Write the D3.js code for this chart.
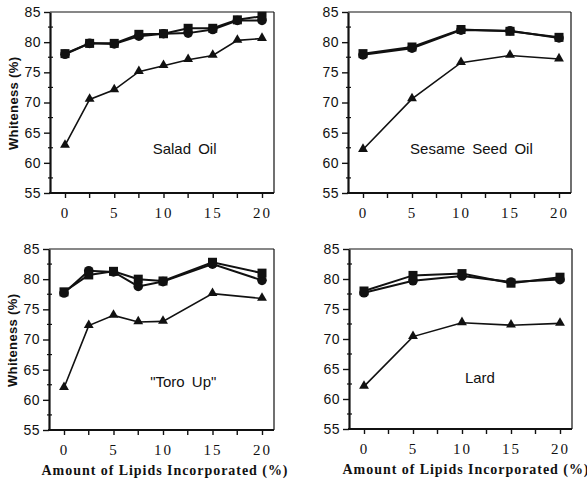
<!DOCTYPE html>
<html>
<head>
<meta charset="utf-8">
<script src="https://cdn.jsdelivr.net/npm/d3@7"></script>
<style>
  html, body { margin: 0; padding: 0; background: #fff; }
  svg { display: block; }
</style>
</head>
<body>
<svg id="chart" width="587" height="482"></svg>
<script>
// ---------- data ----------
const panelNames = ["Salad Oil", "Sesame Seed Oil", "\"Toro Up\"", "Lard"];

const saladX        = [0, 2.5, 5, 7.5, 10, 12.5, 15, 17.5, 20];
const saladSquare   = [78.1, 79.8, 79.8, 81.3, 81.4, 82.3, 82.3, 83.7, 84.3];
const saladCircle   = [78.0, 79.8, 79.7, 81.0, 81.4, 81.5, 82.1, 83.6, 83.6];
const saladTriangle = [62.9, 70.5, 72.1, 75.1, 76.1, 77.1, 77.8, 80.3, 80.6];

const sesameX        = [0, 5, 10, 15, 20];
const sesameSquare   = [78.1, 79.2, 82.1, 81.8, 80.8];
const sesameCircle   = [77.9, 79.0, 82.0, 81.9, 80.7];
const sesameTriangle = [62.2, 70.6, 76.6, 77.8, 77.2];

const toroX        = [0, 2.5, 5, 7.5, 10, 15, 20];
const toroSquare   = [77.9, 80.7, 81.3, 80.0, 79.7, 82.8, 81.0];
const toroCircle   = [77.7, 81.4, 81.2, 78.8, 79.6, 82.5, 79.8];
const toroTriangle = [62.0, 72.3, 74.0, 72.9, 73.0, 77.6, 76.8];

const lardX        = [0, 5, 10, 15, 20];
const lardSquare   = [78.0, 80.6, 80.9, 79.3, 80.3];
const lardCircle   = [77.7, 79.7, 80.5, 79.5, 79.9];
const lardTriangle = [62.1, 70.4, 72.7, 72.3, 72.6];

const xTickValues = [0, 5, 10, 15, 20];
const xMinorTicks = [2.5, 7.5, 12.5, 17.5];
const yTickValues = [55, 60, 65, 70, 75, 80, 85];
const yMinorTicks = [57.5, 62.5, 67.5, 72.5, 77.5, 82.5];
const yTitle = "Whiteness (%)";
const xTitle = "Amount of Lipids Incorporated (%)";

// label anchor positions in data units (x, y)
const labelPos = [[8.9, 61.4], [4.8, 61.4], [8.7, 62.1], [10.3, 62.6]];

// ---------- layout ----------
const panels = [
  { name: panelNames[0], x: saladX,  sq: saladSquare,  ci: saladCircle,  tr: saladTriangle,  box: {l: 50,  r: 274, t: 12,  b: 193}, yAxisTitle: true,  xAxisTitle: false },
  { name: panelNames[1], x: sesameX, sq: sesameSquare, ci: sesameCircle, tr: sesameTriangle, box: {l: 348, r: 571, t: 12,  b: 193}, yAxisTitle: false, xAxisTitle: false },
  { name: panelNames[2], x: toroX,   sq: toroSquare,   ci: toroCircle,   tr: toroTriangle,   box: {l: 49,  r: 274, t: 249, b: 430}, yAxisTitle: true,  xAxisTitle: true },
  { name: panelNames[3], x: lardX,   sq: lardSquare,   ci: lardCircle,   tr: lardTriangle,   box: {l: 349, r: 572, t: 249, b: 429}, yAxisTitle: false, xAxisTitle: true }
];

const svg = d3.select("#chart");
const ink = "#111";

panels.forEach((p, i) => {
  const b = p.box;
  const x = d3.scaleLinear().domain([0, 20]).range([b.l + 15, b.r - 12]);
  const y = d3.scaleLinear().domain([55, 85]).range([b.b, b.t]);
  const g = svg.append("g");

  // frame: top & right thinner
  g.append("line").attr("x1", b.l).attr("x2", b.r).attr("y1", b.t).attr("y2", b.t)
    .attr("stroke", ink).attr("stroke-width", 1.2);
  g.append("line").attr("x1", b.r).attr("x2", b.r).attr("y1", b.t).attr("y2", b.b)
    .attr("stroke", ink).attr("stroke-width", 1.2);

  // y axis
  const yAxis = d3.axisLeft(y).tickValues(yTickValues).tickSize(6).tickPadding(3).tickSizeOuter(0);
  const ya = g.append("g").attr("transform", `translate(${b.l},0)`).call(yAxis);
  ya.select(".domain").attr("stroke", ink).attr("stroke-width", 2.2);
  ya.selectAll(".tick line").attr("stroke", ink).attr("stroke-width", 1.4);
  ya.selectAll(".tick text").attr("fill", ink)
    .style("font-family", "'Liberation Sans', Arial, sans-serif")
    .style("font-size", "14px").style("letter-spacing", "0.5px");
  // minor y ticks
  g.selectAll(".yminor").data(yMinorTicks).enter().append("line")
    .attr("x1", b.l - 2).attr("x2", b.l + 3)
    .attr("y1", d => y(d)).attr("y2", d => y(d))
    .attr("stroke", ink).attr("stroke-width", 1.2);

  // x axis
  const xAxis = d3.axisBottom(x).tickValues(xTickValues).tickSize(5).tickPadding(9).tickSizeOuter(0);
  const xa = g.append("g").attr("transform", `translate(0,${b.b})`).call(xAxis);
  xa.select(".domain").remove();
  g.append("line").attr("x1", b.l - 1).attr("x2", b.r).attr("y1", b.b).attr("y2", b.b)
    .attr("stroke", ink).attr("stroke-width", 2.2);
  xa.selectAll(".tick line").attr("stroke", ink).attr("stroke-width", 1.4);
  xa.selectAll(".tick text").attr("fill", ink)
    .style("font-family", "'Liberation Serif', 'Times New Roman', serif")
    .style("font-size", "15px").style("letter-spacing", "2px");
  g.selectAll(".xminor").data(xMinorTicks).enter().append("line")
    .attr("x1", d => x(d)).attr("x2", d => x(d))
    .attr("y1", b.b).attr("y2", b.b + 5)
    .attr("stroke", ink).attr("stroke-width", 1.4);

  // series
  const mk = vals => p.x.map((xv, j) => [xv, vals[j]]);
  const line = d3.line().x(d => x(d[0])).y(d => y(d[1]));

  const tri = mk(p.tr), sq = mk(p.sq), ci = mk(p.ci);
  g.append("path").datum(tri).attr("d", line).attr("fill", "none")
    .attr("stroke", ink).attr("stroke-width", 1.6);
  g.append("path").datum(ci).attr("d", line).attr("fill", "none")
    .attr("stroke", ink).attr("stroke-width", 2);
  g.append("path").datum(sq).attr("d", line).attr("fill", "none")
    .attr("stroke", ink).attr("stroke-width", 2);

  const triSym = d3.symbol().type(d3.symbolTriangle).size(42);
  g.selectAll(".tri").data(tri).enter().append("path")
    .attr("d", triSym)
    .attr("transform", d => `translate(${x(d[0])},${y(d[1]) - 0.5})`)
    .attr("fill", ink);
  g.selectAll(".ci").data(ci).enter().append("circle")
    .attr("cx", d => x(d[0])).attr("cy", d => y(d[1])).attr("r", 4.8)
    .attr("fill", ink);
  g.selectAll(".sq").data(sq).enter().append("rect")
    .attr("x", d => x(d[0]) - 4.5).attr("y", d => y(d[1]) - 4.5)
    .attr("width", 9).attr("height", 9)
    .attr("fill", ink);

  // panel label
  g.append("text")
    .attr("x", x(labelPos[i][0])).attr("y", y(labelPos[i][1]))
    .attr("fill", ink)
    .style("font-family", "'Liberation Sans', Arial, sans-serif")
    .style("font-size", "15px").style("word-spacing", "3px")
    .text(p.name);

  // titles
  if (p.yAxisTitle) {
    g.append("text")
      .attr("transform", `translate(${b.l - 32},${(b.t + b.b) / 2 + 1}) rotate(-90)`)
      .attr("text-anchor", "middle").attr("fill", ink)
      .style("font-family", "'Liberation Sans', Arial, sans-serif")
      .style("font-size", "13px").style("font-weight", "bold")
      .attr("textLength", 93).attr("lengthAdjust", "spacing")
      .text(yTitle);
  }
  if (p.xAxisTitle) {
    g.append("text")
      .attr("x", (b.l + b.r) / 2 + 3 + (i === 3 ? 2 : 0)).attr("y", b.b + 45)
      .attr("text-anchor", "middle").attr("fill", ink)
      .style("font-family", "'Liberation Serif', 'Times New Roman', serif")
      .style("font-size", "14px").style("font-weight", "bold")
      .attr("textLength", 246).attr("lengthAdjust", "spacing")
      .text(xTitle);
  }
});
</script>
</body>
</html>
